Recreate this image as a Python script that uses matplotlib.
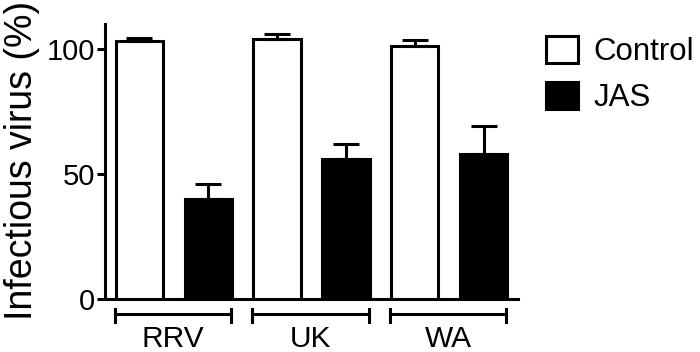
import matplotlib
matplotlib.use("Agg")
import matplotlib.pyplot as plt
from matplotlib.patches import Patch
from matplotlib.transforms import blended_transform_factory

plt.rcParams["font.family"] = ["Liberation Sans", "DejaVu Sans"]

groups = ["RRV", "UK", "WA"]
control = [103, 104, 101]
control_err = [1.5, 2, 2.5]
jas = [40, 56, 58]
jas_err = [6, 6, 11]

fig = plt.figure(figsize=(7, 3.52), dpi=100)
ax = fig.add_axes([0.15, 0.1506, 0.59, 0.7813])

lw = 2.2
xc = [2 * i for i in range(len(groups))]
xj = [2 * i + 1 for i in range(len(groups))]
w = 0.69

ax.bar(xc, control, width=w, color="white", edgecolor="black", linewidth=lw,
       yerr=[[0] * 3, control_err], capsize=9.5,
       error_kw=dict(elinewidth=lw, capthick=lw, ecolor="black"), zorder=3)
ax.bar(xj, jas, width=w, color="black", edgecolor="black", linewidth=lw,
       yerr=[[0] * 3, jas_err], capsize=9.5,
       error_kw=dict(elinewidth=lw, capthick=lw, ecolor="black"), zorder=3)

ax.set_xlim(-0.5, 5.5)
ax.set_ylim(0, 110)
ax.set_yticks([0, 50, 100])
ax.tick_params(axis="y", labelsize=21, width=lw, length=6, pad=1)
ax.set_xticks([])
for s in ["top", "right"]:
    ax.spines[s].set_visible(False)
ax.spines["left"].set_linewidth(lw)
ax.spines["bottom"].set_linewidth(lw)

ax.set_ylabel("Infectious virus (%)", fontsize=27)
ax.yaxis.set_label_coords(-0.157, 0.505)

# group brackets under the axis
tr = blended_transform_factory(ax.transData, ax.transAxes)
for i, name in enumerate(groups):
    x0, x1 = 2 * i - 0.36, 2 * i + 1.33
    ax.plot([x0, x1], [-0.055, -0.055], color="black", lw=lw,
            transform=tr, clip_on=False)
    for xx in (x0, x1):
        ax.plot([xx, xx], [-0.036, -0.084], color="black", lw=lw,
                transform=tr, clip_on=False)
    ax.text((x0 + x1) / 2, -0.096, name, transform=tr, ha="center", va="top",
            fontsize=21.5)

handles = [Patch(facecolor="white", edgecolor="black", linewidth=lw, label="Control"),
           Patch(facecolor="black", edgecolor="black", linewidth=lw, label="JAS")]
fig.legend(handles=handles, loc="upper left", bbox_to_anchor=(0.78, 0.897),
           frameon=False, fontsize=22.5, handlelength=1.02, handleheight=0.93,
           handletextpad=0.5, labelspacing=0.48, borderaxespad=0, borderpad=0)

fig.savefig("out.png", dpi=100)
